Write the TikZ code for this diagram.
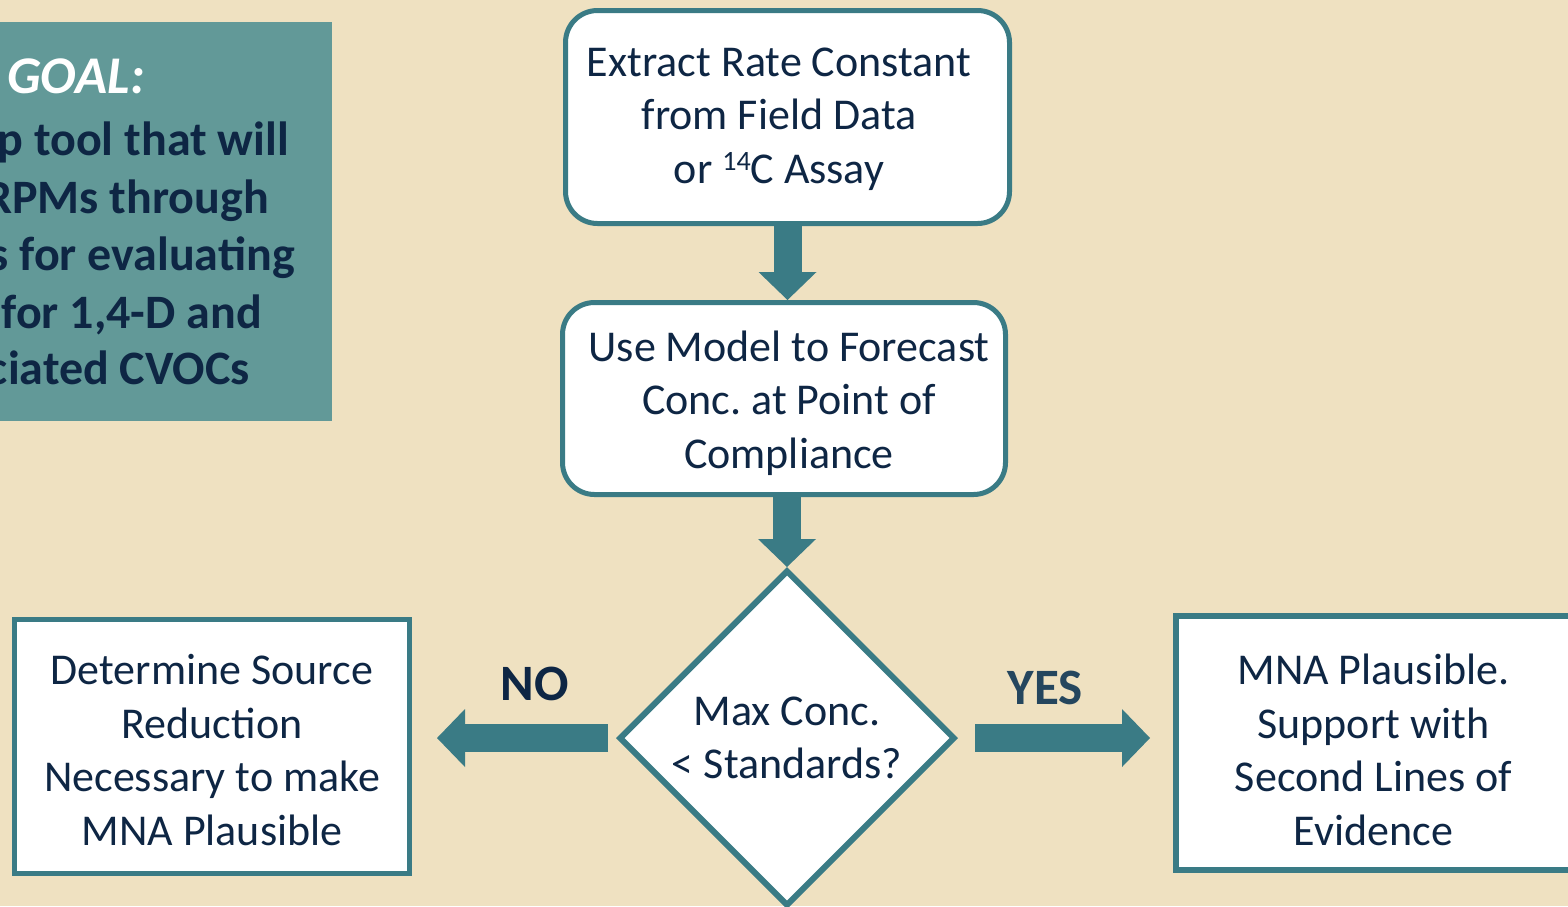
\documentclass[tikz,border=0pt]{standalone}
\usepackage{fontspec}
\setmainfont{Carlito}
\usetikzlibrary{shapes.geometric,arrows.meta}
\definecolor{cream}{HTML}{EFE1C1}
\definecolor{goalfill}{HTML}{629998}
\definecolor{tealline}{HTML}{3A7B85}
\definecolor{navy}{HTML}{0E2644}
\definecolor{yesnavy}{HTML}{25465E}
\frenchspacing
\begin{document}
\begin{tikzpicture}[x=1pt,y=-1pt,
  txt/.style={font=\fontsize{44}{53.5}\selectfont, text=navy, align=center, inner sep=0pt},
  roundbox/.style={draw=tealline, line width=5pt, fill=white, rounded corners=32pt, inner sep=0pt},
  plainbox/.style={draw=tealline, line width=5pt, fill=white, inner sep=0pt},
  decision/.style={txt, diamond, aspect=1, draw=tealline, line width=6pt, fill=white, inner sep=0pt},
  flow/.style={draw=tealline, line width=28pt, -{Triangle[width=58pt,length=28pt,line width=0pt]}},
  answer/.style={font=\fontsize{51}{60}\selectfont\bfseries, inner sep=0pt},
  goalline/.style={font=\fontsize{48}{58}\selectfont\bfseries, text=navy, inner sep=0pt, anchor=base east}
]
\useasboundingbox (0,0) rectangle (1568,906);
\clip (0,0) rectangle (1568,906);
\fill[cream] (0,0) rectangle (1568,906);

% goal panel
\node[fill=goalfill, minimum width=332pt, minimum height=399pt, inner sep=0pt, anchor=north west] (goal) at (0,22) {};
\node[font=\fontsize{53}{60}\selectfont\bfseries\itshape, text=white, inner sep=0pt, anchor=base west] (goalhead) at (7,93) {GOAL:};
\node[goalline] (g1) at (289,155) {p tool that will};
\node[goalline] (g2) at (269,213) {RPMs through};
\node[goalline] (g3) at (295,270) {s for evaluating};
\node[goalline] (g4) at (262,328) {for 1,4-D and};
\node[goalline] (g5) at (250,384) {ciated CVOCs};

% process steps: frames, then their texts
\node[roundbox, minimum width=444pt, minimum height=213pt] (b1) at (787.5,117) {};
\node[txt] (b1text) at (779,119)
  {Extract Rate Constant\\from Field Data\\or \raisebox{0.6ex}{\fontsize{28}{28}\selectfont 14}C Assay};
\node[roundbox, minimum width=443pt, minimum height=192pt] (b2) at (784,398.5) {};
\node[txt] (b2text) at (789,403)
  {Use Model to Forecast\\Conc. at Point of\\Compliance};
\node[decision, minimum width=336pt, minimum height=336pt] (dia) at (787,738)
  {Max Conc.\\< Standards?};
\node[plainbox, minimum width=395pt, minimum height=254pt] (lbox) at (212,746.5) {};
\node[txt] (ltext) at (212,750)
  {Determine Source\\Reduction\\Necessary to make\\MNA Plausible};
\node[plainbox, line width=6pt, minimum width=395pt, minimum height=254pt] (rbox) at (1373.5,743) {};
\node[txt] (rtext) at (1373.5,750)
  {MNA Plausible.\\Support with\\Second Lines of\\Evidence};

% connectors
\draw[flow] (b1.south) -- (b1.south |- b2.north);
\draw[flow] (dia.north |- b2.south) -- (dia.north);
\draw[flow, shorten <=8pt, shorten >=25pt] (dia.west) -- (lbox.east |- dia.west);
\draw[flow, shorten <=17pt, shorten >=23pt] (dia.east) -- (rbox.west |- dia.east);

% branch labels
\node[answer, text=navy] (no) at (535,684) {NO};
\node[answer, text=yesnavy] (yes) at (1045,688) {YES};
\end{tikzpicture}
\end{document}
